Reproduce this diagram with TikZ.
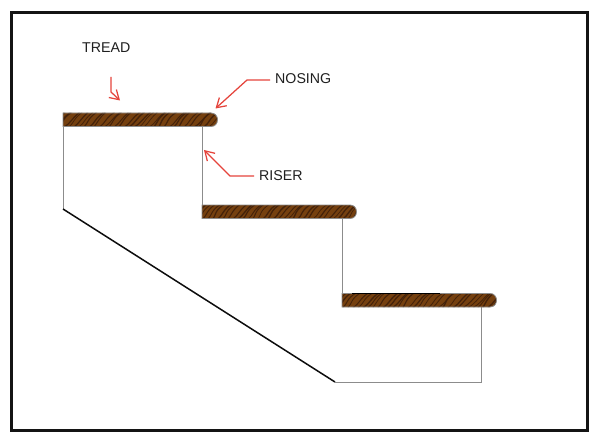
\documentclass[tikz,border=0pt]{standalone}
\usepackage{fontspec}
\setmainfont{Liberation Sans}
\usetikzlibrary{arrows.meta}
\definecolor{woodbase}{HTML}{75400F}
\definecolor{wooddark}{HTML}{44220A}
\definecolor{callout}{HTML}{E5443C}
\tikzset{
  x=1pt,y=-1pt,
  frameline/.style={draw=black!92,line width=2.8pt},
  edgeline/.style={draw=black!45,line width=1pt},
  slopeline/.style={draw=black!95,line width=1.5pt},
  callarrow/.style={draw=callout,line width=1.25pt,-{Straight Barb[length=9pt,width=11pt,line width=1.25pt]}},
  calllabel/.style={font=\fontsize{14.2}{16}\selectfont,text=black!88,inner sep=0pt},
}
\newcommand{\woodboard}[2]{%
  \begin{scope}[shift={(#1,#2)}]
    \def\boardshape{(0,0) -- (148,0) .. controls (152,0) and (154.5,3) .. (154.5,6.7) .. controls (154.5,10.5) and (152,13.5) .. (148,13.5) -- (0,13.5) -- cycle}
    \fill[woodbase] \boardshape;
    \begin{scope}
      \clip \boardshape;
      \foreach \s in {-14,-9,...,156}{
        \pgfmathsetmacro{\da}{2+6*rnd}
        \pgfmathsetmacro{\db}{-2+4*rnd}
        \pgfmathsetmacro{\w}{.7+.7*rnd}
        \draw[wooddark,line width=\w pt] (\s,14) .. controls (\s+\da,10) and (\s+\da+\db,5) .. (\s+\da+9,-1);
      }
    \end{scope}
    \draw[black!45,line width=.8pt] \boardshape;
  \end{scope}}
\begin{document}
\begin{tikzpicture}
\pgfmathsetseed{4217}
\useasboundingbox (0,0) rectangle (600,441);
\fill[white] (0,0) rectangle (600,441);
\draw[frameline] (11.5,12.5) rectangle (587.5,430.5);

% stringer and risers
\coordinate (slopetop) at (63,209);
\coordinate (slopefoot) at (335,382);
\coordinate (floorend) at (481,382);
\draw[edgeline] (63,126) -- (slopetop);
\draw[slopeline] (slopetop) -- (slopefoot);
\draw[edgeline] (slopefoot) -- (floorend) -- (481,306);
\draw[edgeline] (202,126) -- (202,205);
\draw[edgeline] (342,218) -- (342,294);

% treads
\woodboard{63}{113}
\woodboard{202}{205}
\woodboard{342}{293.5}
\draw[black,line width=1pt] (352,293.8) -- (440,293.8);

% labels
\node[calllabel,anchor=west] (tread) at (82,47.5) {TREAD};
\node[calllabel,anchor=west] (nosing) at (275,79) {NOSING};
\node[calllabel,anchor=west] (riser) at (259,176) {RISER};

% callouts
\coordinate (treadstart) at (111,77);
\coordinate (treadbend) at (111,92);
\coordinate (treadtip) at (120,100.5);
\coordinate (nosingbend) at (247,80);
\coordinate (nosingtip) at (215.5,108.5);
\coordinate (riserbend) at (230,176);
\coordinate (risertip) at (204,150);
\draw[callarrow] (treadstart) -- (treadbend) -- (treadtip);
\draw[callarrow] ([xshift=-5pt]nosing.west |- nosingbend) -- (nosingbend) -- (nosingtip);
\draw[callarrow] ([xshift=-5pt]riser.west) -- (riserbend) -- (risertip);
\end{tikzpicture}
\end{document}
